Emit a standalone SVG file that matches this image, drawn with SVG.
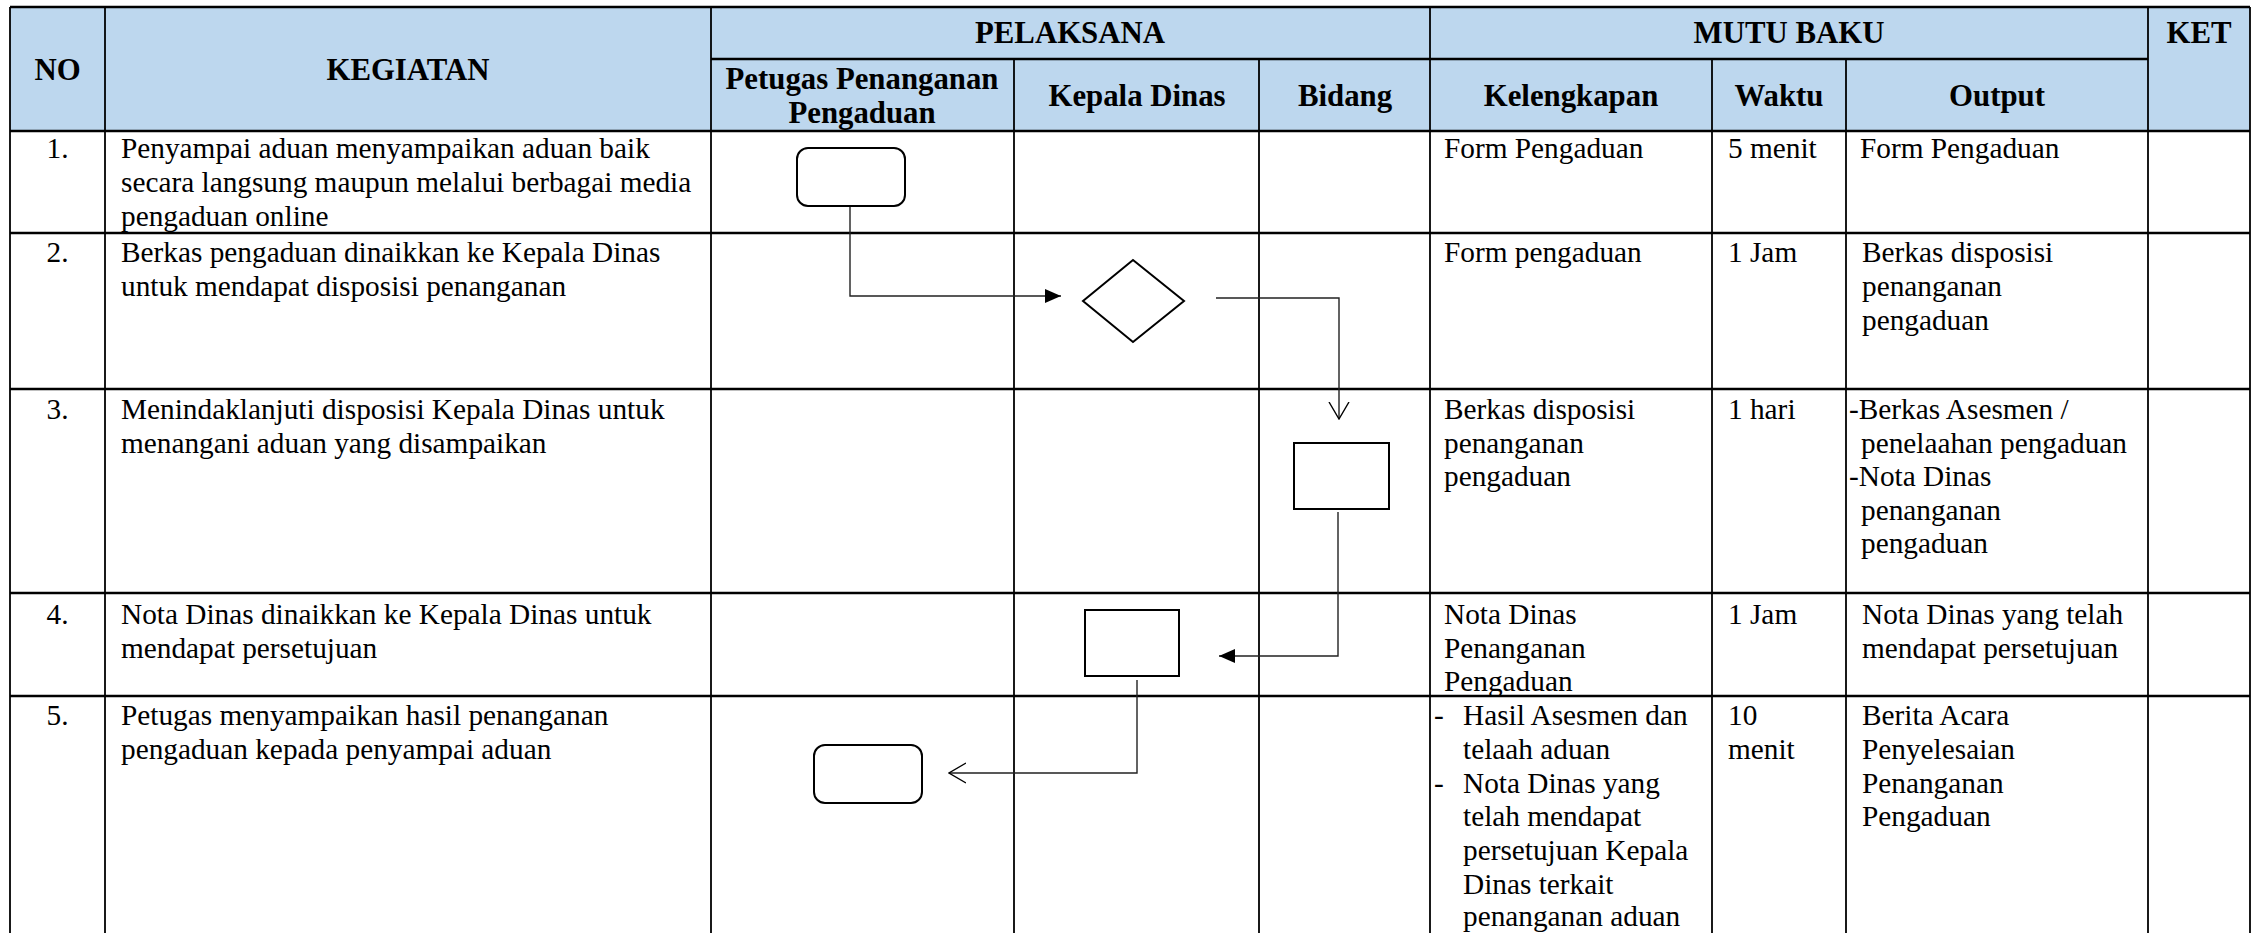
<svg xmlns="http://www.w3.org/2000/svg" width="2258" height="933" viewBox="0 0 2258 933">
<style>
.t{font-family:"Liberation Serif","Times New Roman",serif;font-size:29.3px;fill:#000}
.c{text-anchor:middle}
.h{font-family:"Liberation Serif","Times New Roman",serif;font-size:30.8px;font-weight:bold;fill:#000;text-anchor:middle}
.gh{stroke:#000;stroke-width:2.3;fill:none}
.gv{stroke:#000;stroke-width:1.8;fill:none}
.shape{fill:#fff;stroke:#000;stroke-width:2}
.conn{fill:none;stroke:#222;stroke-width:1.4}
</style>
<defs>
<marker id="fa" viewBox="0 0 16 14" refX="16" refY="7" markerWidth="16" markerHeight="14" markerUnits="userSpaceOnUse" orient="auto">
<path d="M0,0 L16,7 L0,14 Z" fill="#000"/>
</marker>
<marker id="oa" viewBox="0 0 18 22" refX="17" refY="11" markerWidth="18" markerHeight="22" markerUnits="userSpaceOnUse" orient="auto">
<path d="M0,1 L17,11 L0,21" fill="none" stroke="#000" stroke-width="1.4"/>
</marker>
</defs>
<rect width="2258" height="933" fill="#fff"/>
<g id="table">
<rect x="10" y="7" width="2240" height="124" fill="#BDD7EE"/>
<g class="gh">
<line x1="10" y1="7" x2="2250" y2="7"/>
<line x1="711" y1="59" x2="2148" y2="59"/>
<line x1="10" y1="131" x2="2250" y2="131"/>
<line x1="10" y1="233" x2="2250" y2="233"/>
<line x1="10" y1="389" x2="2250" y2="389"/>
<line x1="10" y1="593" x2="2250" y2="593"/>
<line x1="10" y1="696" x2="2250" y2="696"/>
</g>
<g class="gv">
<line x1="10" y1="7" x2="10" y2="933"/>
<line x1="105" y1="7" x2="105" y2="933"/>
<line x1="711" y1="7" x2="711" y2="933"/>
<line x1="1014" y1="59" x2="1014" y2="933"/>
<line x1="1259" y1="59" x2="1259" y2="933"/>
<line x1="1430" y1="7" x2="1430" y2="933"/>
<line x1="1712" y1="59" x2="1712" y2="933"/>
<line x1="1846" y1="59" x2="1846" y2="933"/>
<line x1="2148" y1="7" x2="2148" y2="933"/>
<line x1="2250" y1="7" x2="2250" y2="933"/>
</g>
</g>
<g id="header">
<text class="h" x="57.5" y="80">NO</text>
<text class="h" x="408" y="80">KEGIATAN</text>
<text class="h" x="1070" y="43">PELAKSANA</text>
<text class="h" x="1789" y="43">MUTU BAKU</text>
<text class="h" x="2199" y="43">KET</text>
<text class="h" x="862" y="89">Petugas Penanganan</text>
<text class="h" x="862" y="123">Pengaduan</text>
<text class="h" x="1137" y="106">Kepala Dinas</text>
<text class="h" x="1345" y="106">Bidang</text>
<text class="h" x="1571" y="106">Kelengkapan</text>
<text class="h" x="1779" y="106">Waktu</text>
<text class="h" x="1997" y="106">Output</text>
</g>
<g id="row1">
<text class="t c" x="57.5" y="158">1.</text>
<text class="t" x="121" y="158">Penyampai aduan menyampaikan aduan baik</text>
<text class="t" x="121" y="192">secara langsung maupun melalui berbagai media</text>
<text class="t" x="121" y="226">pengaduan online</text>
<text class="t" x="1444" y="158">Form Pengaduan</text>
<text class="t" x="1728" y="158">5 menit</text>
<text class="t" x="1860" y="158">Form Pengaduan</text>
</g>
<g id="row2">
<text class="t c" x="57.5" y="262">2.</text>
<text class="t" x="121" y="262">Berkas pengaduan dinaikkan ke Kepala Dinas</text>
<text class="t" x="121" y="296">untuk mendapat disposisi penanganan</text>
<text class="t" x="1444" y="262">Form pengaduan</text>
<text class="t" x="1728" y="262">1 Jam</text>
<text class="t" x="1862" y="262">Berkas disposisi</text>
<text class="t" x="1862" y="296">penanganan</text>
<text class="t" x="1862" y="330">pengaduan</text>
</g>
<g id="row3">
<text class="t c" x="57.5" y="419">3.</text>
<text class="t" x="121" y="419">Menindaklanjuti disposisi Kepala Dinas untuk</text>
<text class="t" x="121" y="452.6">menangani aduan yang disampaikan</text>
<text class="t" x="1444" y="419">Berkas disposisi</text>
<text class="t" x="1444" y="452.6">penanganan</text>
<text class="t" x="1444" y="486.2">pengaduan</text>
<text class="t" x="1728" y="419">1 hari</text>
<text class="t" x="1849" y="419">-Berkas Asesmen /</text>
<text class="t" x="1861" y="452.6">penelaahan pengaduan</text>
<text class="t" x="1849" y="486.2">-Nota Dinas</text>
<text class="t" x="1861" y="519.8">penanganan</text>
<text class="t" x="1861" y="553.4">pengaduan</text>
</g>
<g id="row4">
<text class="t c" x="57.5" y="624">4.</text>
<text class="t" x="121" y="624">Nota Dinas dinaikkan ke Kepala Dinas untuk</text>
<text class="t" x="121" y="657.6">mendapat persetujuan</text>
<text class="t" x="1444" y="624">Nota Dinas</text>
<text class="t" x="1444" y="657.6">Penanganan</text>
<text class="t" x="1444" y="691.2">Pengaduan</text>
<text class="t" x="1728" y="624">1 Jam</text>
<text class="t" x="1862" y="624">Nota Dinas yang telah</text>
<text class="t" x="1862" y="657.6">mendapat persetujuan</text>
</g>
<g id="row5">
<text class="t c" x="57.5" y="725">5.</text>
<text class="t" x="121" y="725">Petugas menyampaikan hasil penanganan</text>
<text class="t" x="121" y="758.8">pengaduan kepada penyampai aduan</text>
<text class="t" x="1434" y="725">-</text>
<text class="t" x="1463" y="725">Hasil Asesmen dan</text>
<text class="t" x="1463" y="758.8">telaah aduan</text>
<text class="t" x="1434" y="792.6">-</text>
<text class="t" x="1463" y="792.6">Nota Dinas yang</text>
<text class="t" x="1463" y="826.4">telah mendapat</text>
<text class="t" x="1463" y="860.2">persetujuan Kepala</text>
<text class="t" x="1463" y="894">Dinas terkait</text>
<text class="t" x="1463" y="926">penanganan aduan</text>
<text class="t" x="1728" y="725">10</text>
<text class="t" x="1728" y="758.8">menit</text>
<text class="t" x="1862" y="725">Berita Acara</text>
<text class="t" x="1862" y="758.8">Penyelesaian</text>
<text class="t" x="1862" y="792.6">Penanganan</text>
<text class="t" x="1862" y="826.4">Pengaduan</text>
</g>
<g id="connectors">
<polyline class="conn" points="850,207 850,296 1061,296" marker-end="url(#fa)"/>
<polyline class="conn" points="1216,298 1339,298 1339,419" marker-end="url(#oa)"/>
<polyline class="conn" points="1338,512 1338,656 1219,656" marker-end="url(#fa)"/>
<polyline class="conn" points="1137,680 1137,773 949,773" marker-end="url(#oa)"/>
</g>
<g id="node-start">
<rect class="shape" x="797" y="148" width="108" height="58" rx="11"/>
</g>
<g id="node-decision">
<polygon class="shape" points="1133,260 1184,301 1133,342 1083,301"/>
</g>
<g id="node-bidang">
<rect class="shape" x="1294" y="443" width="95" height="66"/>
</g>
<g id="node-kepala">
<rect class="shape" x="1085" y="610" width="94" height="66"/>
</g>
<g id="node-end">
<rect class="shape" x="814" y="745" width="108" height="58" rx="11"/>
</g>
</svg>
